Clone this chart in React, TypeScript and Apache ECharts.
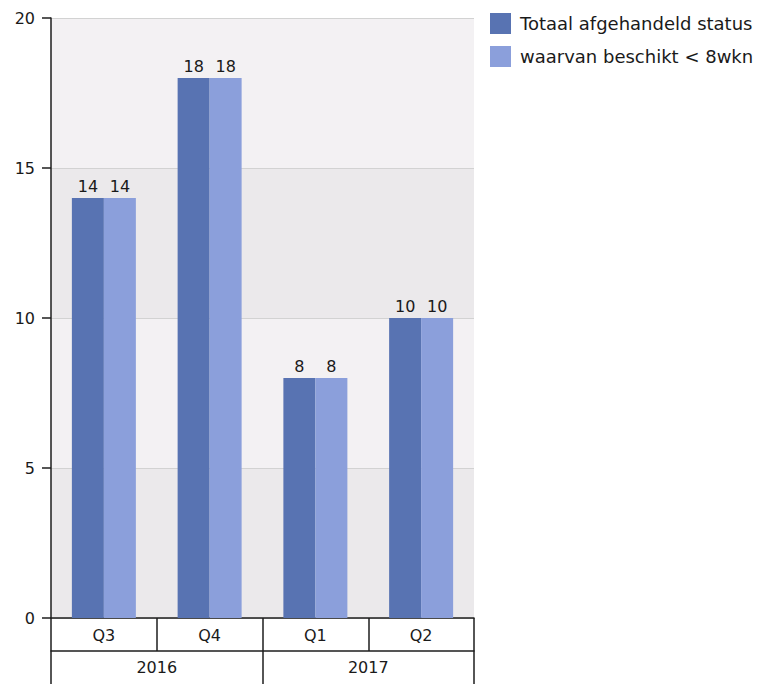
import React, { useEffect, useRef } from "react";
import * as echarts from "echarts";

const quarters = ["Q3", "Q4", "Q1", "Q2"];
const years = ["2016", "2017"];
const totaal = [14, 18, 8, 10];
const binnen8 = [14, 18, 8, 10];
const seriesNames = ["Totaal afgehandeld status", "waarvan beschikt < 8wkn"];

export default function App() {
  const ref = useRef<HTMLDivElement>(null);
  useEffect(() => {
    if (!ref.current) return;
    const chart = echarts.init(ref.current, undefined, { renderer: "svg" });
    const font = "'DejaVu Sans', Verdana, sans-serif";
    const lineColor = "#1e1e1e";
    const txt = "#1a1a1a";
    chart.setOption({
      animation: false,
      textStyle: { fontFamily: font },
      grid: { left: 51, top: 18, right: 300, bottom: 66, containLabel: false },
      legend: {
        orient: "vertical",
        left: 485,
        top: 8,
        itemWidth: 21,
        itemHeight: 21,
        itemGap: 12,
        icon: "rect",
        data: seriesNames,
        textStyle: { fontSize: 18, color: txt, fontFamily: font, padding: [0, 0, 0, 4] },
      },
      xAxis: [
        {
          type: "category",
          data: quarters,
          axisLine: { show: true, lineStyle: { color: lineColor, width: 1.5 } },
          axisTick: { show: true, interval: 0, length: 33, lineStyle: { color: lineColor, width: 1.5 } },
          axisLabel: { margin: 9, fontSize: 16, color: txt, fontFamily: font },
        },
        {
          type: "category",
          data: years,
          position: "bottom",
          offset: 33,
          axisLine: { show: true, lineStyle: { color: lineColor, width: 1.5 } },
          axisTick: { show: true, interval: 0, length: 40, lineStyle: { color: lineColor, width: 1.5 } },
          axisLabel: { margin: 8, fontSize: 16, color: txt, fontFamily: font },
        },
      ],
      yAxis: {
        type: "value",
        min: 0,
        max: 20,
        interval: 5,
        axisLine: { show: true, lineStyle: { color: lineColor, width: 1.5 } },
        axisTick: { show: true, length: 9, lineStyle: { color: lineColor, width: 1.5 } },
        axisLabel: { margin: 16, fontSize: 16, color: txt, fontFamily: font },
        splitLine: { show: true, lineStyle: { color: "#d2d2d2", width: 1 } },
        splitArea: { show: true, areaStyle: { color: ["#ebe9eb", "#f3f1f3"] } },
      },
      series: [
        {
          name: seriesNames[0],
          type: "bar",
          data: totaal,
          barWidth: 32,
          barGap: "0%",
          itemStyle: { color: "#5873b2" },
          label: { show: true, position: "top", distance: 4, fontSize: 16, color: txt, fontFamily: font },
        },
        {
          name: seriesNames[1],
          type: "bar",
          data: binnen8,
          barWidth: 32,
          barGap: "0%",
          itemStyle: { color: "#8b9fdb" },
          label: { show: true, position: "top", distance: 4, fontSize: 16, color: txt, fontFamily: font },
        },
      ],
    });
    return () => chart.dispose();
  }, []);
  return (
    <div
      ref={ref}
      style={{ position: "fixed", left: 0, top: 0, width: 774, height: 684, background: "#ffffff" }}
    />
  );
}
